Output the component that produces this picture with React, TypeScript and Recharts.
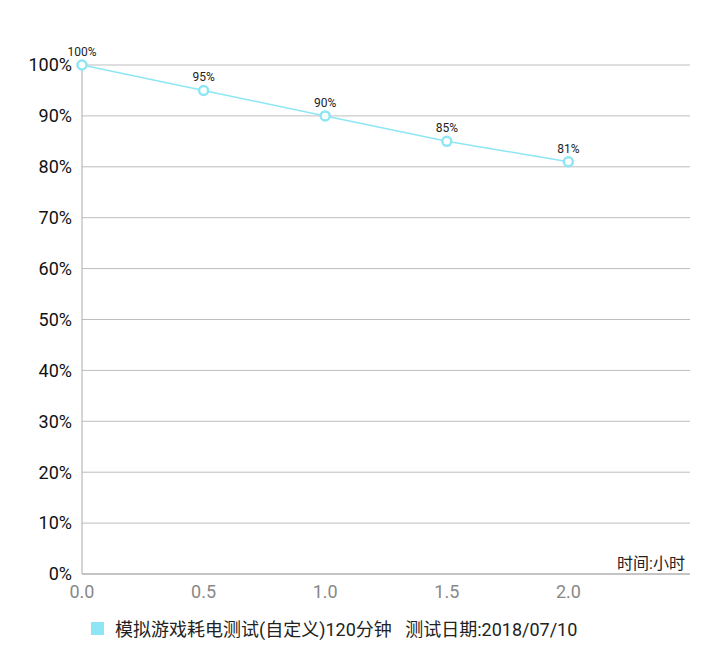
import { LineChart, Line, XAxis, YAxis, CartesianGrid, LabelList } from 'recharts';

const hours = [0, 0.5, 1.0, 1.5, 2.0];
const battery = [100, 95, 90, 85, 81];
const xTicks = [0, 0.5, 1.0, 1.5, 2.0];
const yTicks = [0, 10, 20, 30, 40, 50, 60, 70, 80, 90, 100];
const seriesName = '模拟游戏耗电测试(自定义)120分钟   测试日期:2018/07/10';
const xUnit = '时间:小时';

const data = hours.map((h, i) => ({ h, v: battery[i] }));

const LINE = '#8ee6f5';
const FONT = 'Roboto, "Noto Sans CJK SC", sans-serif';

export default function App() {
  return (
    <div style={{ position: 'absolute', left: 0, top: 0, width: 720, height: 658, background: '#fff', fontFamily: FONT }}>
      <LineChart width={720} height={658} data={data} margin={{ top: 65, right: 30, left: 0, bottom: 54 }}>
        <CartesianGrid vertical={false} stroke="#bdbdbd" />
        <XAxis
          dataKey="h"
          type="number"
          domain={[0, 2.5]}
          ticks={xTicks}
          height={30}
          tickFormatter={(v: number) => v.toFixed(1)}
          tickLine={false}
          tickSize={9}
          axisLine={{ stroke: '#aaa' }}
          tick={{ fill: '#888', fontSize: 18, fontFamily: FONT }}
        />
        <YAxis
          type="number"
          domain={[0, 100]}
          ticks={yTicks}
          width={82}
          interval={0}
          tickFormatter={(v: number) => `${v}%`}
          tickLine={false}
          tickSize={8}
          axisLine={{ stroke: '#aaa' }}
          tick={{ fill: '#111', fontSize: 18, fontFamily: FONT }}
        />
        <Line
          dataKey="v"
          stroke={LINE}
          strokeWidth={1.5}
          dot={{ r: 4.5, fill: '#fff', stroke: LINE, strokeWidth: 2.5 }}
          activeDot={false}
          isAnimationActive={false}
        >
          <LabelList
            dataKey="v"
            position="top"
            offset={9}
            formatter={(v: number) => `${v}%`}
            style={{ fill: '#222', fontSize: 12, fontFamily: FONT }}
          />
        </Line>
      </LineChart>
      <div style={{ position: 'absolute', right: 35, top: 550, fontSize: 16, color: '#222', fontFamily: FONT }}>{xUnit}</div>
      <div style={{ position: 'absolute', left: 91, top: 615, display: 'flex', alignItems: 'center', fontFamily: FONT, fontSize: 18, color: '#222' }}>
        <span style={{ display: 'inline-block', width: 13, height: 13, background: LINE, marginRight: 11 }} />
        <span style={{ whiteSpace: 'pre' }}>{seriesName}</span>
      </div>
    </div>
  );
}
